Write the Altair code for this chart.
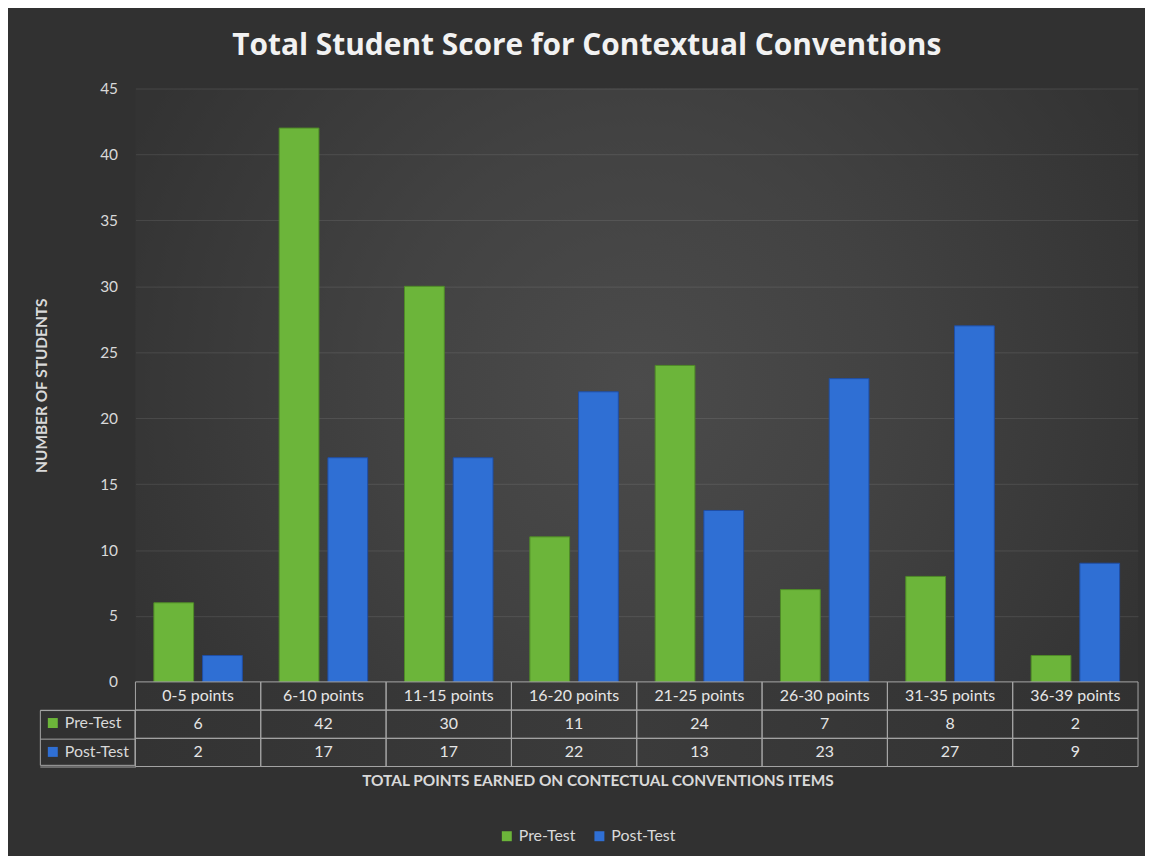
import altair as alt
import pandas as pd

categories = ["0-5 points", "6-10 points", "11-15 points", "16-20 points",
              "21-25 points", "26-30 points", "31-35 points", "36-39 points"]
series = ["Pre-Test", "Post-Test"]
pre_test = [6, 42, 30, 11, 24, 7, 8, 2]
post_test = [2, 17, 17, 22, 13, 23, 27, 9]
y_ticks = [0, 5, 10, 15, 20, 25, 30, 35, 40, 45]
row_order = ["hdr", "Pre-Test", "Post-Test"]

fills = ["#6cb53a", "#2f6fd4"]
strokes = ["#4f8a27", "#1f4fa6"]

FONT = "Lato"
TXT = "#d9d9d9"
LINE = "#a6a6a6"

records = []
for c, a, b in zip(categories, pre_test, post_test):
    records.append({"category": c, "row": "Pre-Test", "value": a})
    records.append({"category": c, "row": "Post-Test", "value": b})
bars_df = pd.DataFrame(records)

table_records = [{"category": c, "row": "hdr", "text": c} for c in categories]
table_records += [{"category": r["category"], "row": r["row"], "text": str(r["value"])} for r in records]
table_df = pd.DataFrame(table_records)

bg_grad = alt.ExprRef(
    "{gradient: 'radial', x1: 0.5, y1: 0.5, r1: 0, x2: 0.5, y2: 0.5, r2: 0.56, "
    "stops: [{offset: 0, color: '#4b4b4b'}, {offset: 0.45, color: '#424242'}, {offset: 1, color: '#333333'}]}"
)
table_grad = alt.ExprRef(
    "{gradient: 'linear', x1: 0, y1: 0, x2: 1, y2: 0, "
    "stops: [{offset: 0, color: '#333333'}, {offset: 0.5, color: '#3b3b3b'}, {offset: 1, color: '#313131'}]}"
)

bars = alt.Chart(bars_df).mark_bar(strokeWidth=1).encode(
    x=alt.X("category:N", sort=categories, axis=None,
            scale=alt.Scale(paddingInner=0.294, paddingOuter=0.147)),
    xOffset=alt.XOffset("row:N", sort=series,
                        scale=alt.Scale(paddingInner=0.184, paddingOuter=0)),
    y=alt.Y("value:Q", scale=alt.Scale(domain=[0, 45], nice=False),
            axis=alt.Axis(values=y_ticks, title="NUMBER OF STUDENTS", domain=False, ticks=False,
                          labelFont=FONT, labelFontSize=15.5, labelColor=TXT, labelPadding=18,
                          gridColor="#ffffff", gridOpacity=0.1,
                          titleFont=FONT, titleFontSize=15.5, titleFontWeight="bold",
                          titleColor=TXT, titlePadding=50)),
    color=alt.Color("row:N", sort=series, scale=alt.Scale(domain=series, range=fills),
                    legend=alt.Legend(orient="none", legendX=365, legendY=743, direction="horizontal",
                                      title=None, symbolType="square", symbolSize=100,
                                      symbolStrokeWidth=0, labelFont=FONT, labelFontSize=16,
                                      labelColor=TXT, columnPadding=16, labelOffset=4)),
    stroke=alt.Stroke("row:N", sort=series, scale=alt.Scale(domain=series, range=strokes), legend=None),
).properties(width=1007, height=596, view=alt.ViewBackground(fill=bg_grad, stroke=None))

x_tab = alt.X("category:N", sort=categories, scale=alt.Scale(paddingInner=0, paddingOuter=0),
              axis=alt.Axis(labels=False, ticks=False, domain=False,
                            title="TOTAL POINTS EARNED ON CONTECTUAL CONVENTIONS ITEMS",
                            titleFont=FONT, titleFontSize=15.5, titleFontWeight="bold",
                            titleColor=TXT, titlePadding=7, titleX=464))
y_tab = alt.Y("row:N", scale=alt.Scale(domain=row_order, paddingInner=0, paddingOuter=0),
              axis=alt.Axis(labels=False, title=None, domain=False, tickBand="extent", tickSize=96,
                            values=series, tickColor=LINE))

cells = alt.Chart(table_df).mark_rect(fill="transparent", stroke=LINE, strokeWidth=1).encode(
    x=x_tab, y=y_tab)

texts = alt.Chart(table_df).mark_text(font=FONT, fontSize=16, color="#e6e6e6").encode(
    x=x_tab, y=y_tab, text="text:N")

markers = alt.Chart(table_df).transform_filter("datum.row !== 'hdr'").mark_square(opacity=0).encode(
    x=x_tab, y=y_tab,
    color=alt.Color("row:N", sort=series, scale=alt.Scale(domain=series, range=fills),
                    legend=alt.Legend(orient="none", legendX=-96, legendY=28.3, direction="vertical",
                                      title=None, symbolType="square", symbolSize=100, symbolOpacity=1,
                                      symbolStrokeWidth=0, labelFont=FONT, labelFontSize=16,
                                      labelColor=TXT, rowPadding=13, labelOffset=4,
                                      padding=5, strokeColor=LINE)),
)

table = alt.layer(cells, texts, markers).properties(
    width=1007, height=85, view=alt.ViewBackground(fill=table_grad, stroke=None))

chart = alt.vconcat(bars, table, spacing=0, bounds="flush").resolve_scale(
    x="independent", y="independent", color="independent", stroke="independent"
).resolve_legend(color="independent").properties(
    title=alt.Title("Total Student Score for Contextual Conventions", font="Open Sans", fontSize=30,
                    fontWeight="bold", color="#f2f2f2", anchor="middle", offset=21),
    background="#313131",
    padding={"left": 27, "top": 21, "right": 6, "bottom": 10},
).configure_view(stroke=None)

chart.save("out.html", embed_options={"renderer": "svg", "actions": False})
